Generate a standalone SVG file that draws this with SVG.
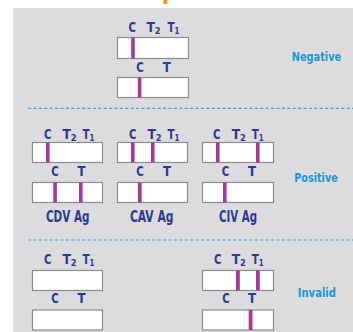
<svg xmlns="http://www.w3.org/2000/svg" width="353" height="332" viewBox="0 0 353 332">
<style>
.bg{fill:#dcdcde}
.strip{fill:#fff;stroke:#8c8c8e;stroke-width:1.2}
.band{fill:#a4399b}
.lbl{font-family:"DejaVu Sans Condensed","Liberation Sans",sans-serif;font-weight:bold;font-size:14px;fill:#2f3a8f}
.sub{font-size:9.5px}
.name{font-family:"DejaVu Sans Condensed","Liberation Sans",sans-serif;font-weight:bold;font-size:15.5px;fill:#2f3a8f}
.res{font-family:"DejaVu Sans Condensed","Liberation Sans",sans-serif;font-weight:bold;font-size:12.5px;fill:#1a96d8}
.dash{stroke:#3aa9e0;stroke-width:1.2;stroke-dasharray:3.2 2.2;fill:none}
</style>
<rect x="163.3" y="0" width="4" height="4" fill="#f7941d"/>
<rect class="bg" x="13" y="8" width="340" height="324"/>
<g id="connectors">
<line class="dash" x1="28" y1="108.3" x2="353" y2="108.3"/>
<line class="dash" x1="28" y1="240" x2="353" y2="240"/>
</g>
<g id="negative">
<text class="lbl" x="128.6" y="31.7" textLength="7.5" lengthAdjust="spacingAndGlyphs">C</text>
<text class="lbl" x="146.4" y="31.7" textLength="14.2" lengthAdjust="spacingAndGlyphs">T<tspan class="sub" dy="1.8">2</tspan></text>
<text class="lbl" x="167.4" y="31.7" textLength="12" lengthAdjust="spacingAndGlyphs">T<tspan class="sub" dy="1.8">1</tspan></text>
<rect class="strip" x="117.5" y="37.5" width="71" height="21"/>
<rect class="band" x="131.2" y="37.5" width="3.6" height="21"/>
<text class="lbl" x="136.3" y="71.7" textLength="7.5" lengthAdjust="spacingAndGlyphs">C</text>
<text class="lbl" x="162.7" y="71.7" textLength="8" lengthAdjust="spacingAndGlyphs">T</text>
<rect class="strip" x="117.5" y="77.5" width="71" height="20"/>
<rect class="band" x="137.8" y="77.5" width="3.6" height="20"/>
<text class="res" x="291.7" y="60.7" textLength="49.5" lengthAdjust="spacingAndGlyphs">Negative</text>
</g>
<g id="positive-cdv">
<text class="lbl" x="43.9" y="139" textLength="7.5" lengthAdjust="spacingAndGlyphs">C</text>
<text class="lbl" x="62.4" y="139" textLength="14.2" lengthAdjust="spacingAndGlyphs">T<tspan class="sub" dy="1.8">2</tspan></text>
<text class="lbl" x="82.4" y="139" textLength="12" lengthAdjust="spacingAndGlyphs">T<tspan class="sub" dy="1.8">1</tspan></text>
<rect class="strip" x="32.5" y="142.5" width="70" height="20"/>
<rect class="band" x="46" y="142.5" width="3.6" height="20"/>
<text class="lbl" x="51.3" y="176" textLength="7.5" lengthAdjust="spacingAndGlyphs">C</text>
<text class="lbl" x="77.4" y="176" textLength="8" lengthAdjust="spacingAndGlyphs">T</text>
<rect class="strip" x="32.5" y="182.5" width="70" height="20"/>
<rect class="band" x="53.3" y="182.5" width="3.6" height="20"/>
<rect class="band" x="79" y="182.5" width="3.6" height="20"/>
<text class="name" x="67.7" y="221.7" text-anchor="middle" textLength="43.5" lengthAdjust="spacingAndGlyphs">CDV Ag</text>
</g>
<g id="positive-cav">
<text class="lbl" x="128.9" y="139" textLength="7.5" lengthAdjust="spacingAndGlyphs">C</text>
<text class="lbl" x="147.4" y="139" textLength="14.2" lengthAdjust="spacingAndGlyphs">T<tspan class="sub" dy="1.8">2</tspan></text>
<text class="lbl" x="167.4" y="139" textLength="12" lengthAdjust="spacingAndGlyphs">T<tspan class="sub" dy="1.8">1</tspan></text>
<rect class="strip" x="117.5" y="142.5" width="70" height="20"/>
<rect class="band" x="131" y="142.5" width="3.6" height="20"/>
<rect class="band" x="151" y="142.5" width="3.6" height="20"/>
<text class="lbl" x="136.3" y="176" textLength="7.5" lengthAdjust="spacingAndGlyphs">C</text>
<text class="lbl" x="163" y="176" textLength="8" lengthAdjust="spacingAndGlyphs">T</text>
<rect class="strip" x="117.5" y="182.5" width="70" height="20"/>
<rect class="band" x="138" y="182.5" width="3.6" height="20"/>
<text class="name" x="151.7" y="221.7" text-anchor="middle" textLength="43.5" lengthAdjust="spacingAndGlyphs">CAV Ag</text>
</g>
<g id="positive-civ">
<text class="lbl" x="213" y="139" textLength="7.5" lengthAdjust="spacingAndGlyphs">C</text>
<text class="lbl" x="231.7" y="139" textLength="14.2" lengthAdjust="spacingAndGlyphs">T<tspan class="sub" dy="1.8">2</tspan></text>
<text class="lbl" x="251.7" y="139" textLength="12" lengthAdjust="spacingAndGlyphs">T<tspan class="sub" dy="1.8">1</tspan></text>
<rect class="strip" x="202.5" y="142.5" width="71" height="20"/>
<rect class="band" x="216" y="142.5" width="3.6" height="20"/>
<rect class="band" x="256" y="142.5" width="3.6" height="20"/>
<text class="lbl" x="221.7" y="176" textLength="7.5" lengthAdjust="spacingAndGlyphs">C</text>
<text class="lbl" x="248" y="176" textLength="8" lengthAdjust="spacingAndGlyphs">T</text>
<rect class="strip" x="202.5" y="182.5" width="71" height="20"/>
<rect class="band" x="223" y="182.5" width="3.6" height="20"/>
<text class="name" x="238" y="221.7" text-anchor="middle" textLength="38" lengthAdjust="spacingAndGlyphs">CIV Ag</text>
<text class="res" x="294.3" y="181.7" textLength="43.4" lengthAdjust="spacingAndGlyphs">Positive</text>
</g>
<g id="invalid-blank">
<text class="lbl" x="43.9" y="264" textLength="7.5" lengthAdjust="spacingAndGlyphs">C</text>
<text class="lbl" x="62.4" y="264" textLength="14.2" lengthAdjust="spacingAndGlyphs">T<tspan class="sub" dy="1.8">2</tspan></text>
<text class="lbl" x="82.4" y="264" textLength="12" lengthAdjust="spacingAndGlyphs">T<tspan class="sub" dy="1.8">1</tspan></text>
<rect class="strip" x="32.5" y="270.5" width="70" height="20"/>
<text class="lbl" x="51.3" y="303.3" textLength="7.5" lengthAdjust="spacingAndGlyphs">C</text>
<text class="lbl" x="77.4" y="303.3" textLength="8" lengthAdjust="spacingAndGlyphs">T</text>
<rect class="strip" x="32.5" y="310" width="70" height="20"/>
</g>
<g id="invalid-noc">
<text class="lbl" x="214" y="264" textLength="7.5" lengthAdjust="spacingAndGlyphs">C</text>
<text class="lbl" x="231.7" y="264" textLength="14.2" lengthAdjust="spacingAndGlyphs">T<tspan class="sub" dy="1.8">2</tspan></text>
<text class="lbl" x="251.7" y="264" textLength="12" lengthAdjust="spacingAndGlyphs">T<tspan class="sub" dy="1.8">1</tspan></text>
<rect class="strip" x="202.5" y="270.5" width="71" height="20"/>
<rect class="band" x="236" y="270.5" width="3.8" height="20"/>
<rect class="band" x="256" y="270.5" width="3.8" height="20"/>
<text class="lbl" x="222.3" y="303.3" textLength="7.5" lengthAdjust="spacingAndGlyphs">C</text>
<text class="lbl" x="248" y="303.3" textLength="8" lengthAdjust="spacingAndGlyphs">T</text>
<rect class="strip" x="202.5" y="310" width="71" height="20"/>
<rect class="band" x="248.7" y="310" width="3.8" height="20"/>
<text class="res" x="297.7" y="296.7" textLength="38.3" lengthAdjust="spacingAndGlyphs">Invalid</text>
</g>
</svg>
